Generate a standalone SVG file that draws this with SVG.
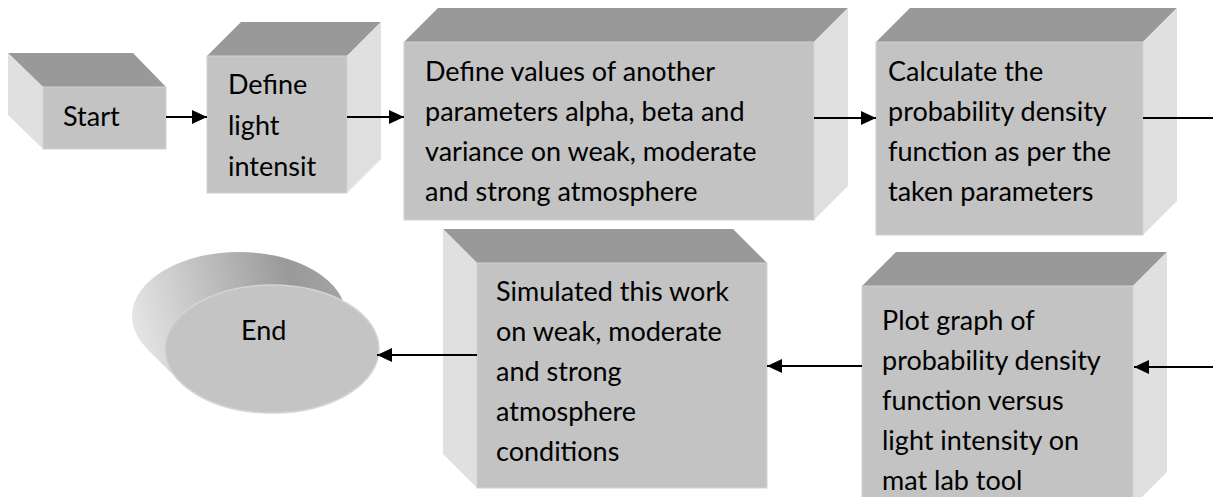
<svg xmlns="http://www.w3.org/2000/svg" width="1213" height="497" viewBox="0 0 1213 497">
  <style>
    .front { fill: #c3c3c3; stroke: #d2d2d2; stroke-width: 1; }
    .top { fill: #999999; }
    .side { fill: #e0e0e0; }
    .label { font-family: "Lato", "Open Sans", sans-serif; font-size: 27px; fill: #000000; }
    .conn { stroke: #000000; stroke-width: 2; fill: none; }
  </style>
  <defs>
    <marker id="arrow" markerUnits="userSpaceOnUse" markerWidth="16" markerHeight="14" refX="15" refY="7" orient="auto">
      <path d="M0,0 L15,7 L0,14 z" fill="#000000"/>
    </marker>
    <linearGradient id="endSide" gradientUnits="userSpaceOnUse" x1="135" y1="340" x2="365" y2="280">
      <stop offset="0" stop-color="#e6e6e6"/>
      <stop offset="0.7" stop-color="#999999"/>
      <stop offset="1" stop-color="#a9a9a9"/>
    </linearGradient>
  </defs>

  <!-- Start -->
  <g id="start">
    <polygon class="top" points="8,53 133,53 166,87 43,87"/>
    <polygon class="side" points="8,53 43,87 43,149 8,115"/>
    <rect class="front" x="43" y="87" width="123" height="62"/>
    <text class="label" x="63" y="126">Start</text>
  </g>

  <!-- Define light intensity -->
  <g id="define-light">
    <polygon class="top" points="207,56 241,22 381,22 347,56"/>
    <polygon class="side" points="347,56 381,22 381,159 347,193"/>
    <rect class="front" x="207" y="56" width="140" height="137"/>
    <text class="label">
      <tspan x="228" y="94">Define</tspan>
      <tspan x="228" y="135">light</tspan>
      <tspan x="228" y="176">intensit</tspan>
    </text>
  </g>

  <!-- Define parameters -->
  <g id="define-params">
    <polygon class="top" points="404,42 438,8 848,8 814,42"/>
    <polygon class="side" points="814,42 848,8 848,186 814,220"/>
    <rect class="front" x="404" y="42" width="410" height="178"/>
    <text class="label">
      <tspan x="425" y="81">Define values of another</tspan>
      <tspan x="425" y="121">parameters alpha, beta and</tspan>
      <tspan x="425" y="161">variance on weak, moderate</tspan>
      <tspan x="425" y="201">and strong atmosphere</tspan>
    </text>
  </g>

  <!-- Calculate PDF -->
  <g id="calculate">
    <polygon class="top" points="876,42 910,8 1177,8 1143,42"/>
    <polygon class="side" points="1143,42 1177,8 1177,201 1143,235"/>
    <rect class="front" x="876" y="42" width="267" height="193"/>
    <text class="label">
      <tspan x="888" y="81">Calculate the</tspan>
      <tspan x="888" y="121">probability density</tspan>
      <tspan x="888" y="161">function as per the</tspan>
      <tspan x="888" y="201">taken parameters</tspan>
    </text>
  </g>

  <!-- Plot graph -->
  <g id="plot">
    <polygon class="top" points="862,286 896,252 1167,252 1133,286"/>
    <polygon class="side" points="1133,286 1167,252 1167,472 1133,506"/>
    <rect class="front" x="862" y="286" width="271" height="220"/>
    <text class="label">
      <tspan x="882" y="330">Plot graph of</tspan>
      <tspan x="882" y="370">probability density</tspan>
      <tspan x="882" y="410">function versus</tspan>
      <tspan x="882" y="450">light intensity on</tspan>
      <tspan x="882" y="490">mat lab tool</tspan>
    </text>
  </g>

  <!-- Simulated -->
  <g id="simulated">
    <polygon class="top" points="443,229 733,229 767,263 477,263"/>
    <polygon class="side" points="443,229 477,263 477,488 443,454"/>
    <rect class="front" x="477" y="263" width="290" height="225"/>
    <text class="label">
      <tspan x="496" y="301">Simulated this work</tspan>
      <tspan x="496" y="341">on weak, moderate</tspan>
      <tspan x="496" y="381">and strong</tspan>
      <tspan x="496" y="421">atmosphere</tspan>
      <tspan x="496" y="461">conditions</tspan>
    </text>
  </g>

  <!-- End -->
  <g id="end">
    <ellipse cx="239" cy="316" rx="107" ry="64" fill="url(#endSide)"/>
    <polygon points="147.2,348.9 272.8,283.1 363.8,316.1 180.2,381.9" fill="url(#endSide)"/>
    <ellipse cx="272" cy="349" rx="107" ry="64" fill="#c4c4c4" stroke="#d4d4d4" stroke-width="1.5"/>
    <text class="label" x="241" y="340">End</text>
  </g>

  <!-- Connectors -->
  <g id="connectors">
    <line class="conn" x1="166" y1="117" x2="207" y2="117" marker-end="url(#arrow)"/>
    <line class="conn" x1="347" y1="117" x2="404" y2="117" marker-end="url(#arrow)"/>
    <line class="conn" x1="814" y1="118" x2="876" y2="118" marker-end="url(#arrow)"/>
    <line class="conn" x1="1143" y1="118" x2="1213" y2="118"/>
    <line class="conn" x1="1213" y1="367" x2="1134" y2="367" marker-end="url(#arrow)"/>
    <line class="conn" x1="862" y1="366" x2="767" y2="366" marker-end="url(#arrow)"/>
    <line class="conn" x1="477" y1="355" x2="377" y2="355" marker-end="url(#arrow)"/>
  </g>
</svg>
